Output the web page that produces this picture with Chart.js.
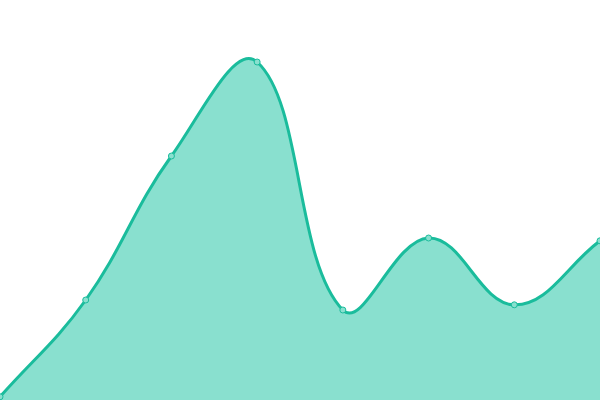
<!DOCTYPE html>
<html>
<head>
<meta charset="utf-8">
<script src="https://cdn.jsdelivr.net/npm/chart.js@4"></script>
<style>
  html, body { margin: 0; padding: 0; background: #fff; }
  #wrap { width: 600px; height: 400px; }
</style>
</head>
<body>
<div id="wrap"><canvas id="my-chart"></canvas></div>
<script>
'use strict';

// ***** DATA *****

let labels = ['1', '2', '3', '4', '5', '6', '7', '8'];
let values = [0.8, 25, 61, 84.5, 22.5, 40.5, 23.8, 39.8];

// ***** CHART *****

let ctx = document.getElementById('my-chart');

new Chart(ctx, {
    type: 'line',
    data: {
        labels: labels,
        datasets: [{
            data: values,
            fill: true,
            tension: 0.4,
            borderColor: '#1abc9c',
            backgroundColor: '#89e0cf',
            borderWidth: 3,
            pointRadius: 3,
            pointBorderWidth: 1,
            pointBackgroundColor: '#89e0cf',
            pointBorderColor: '#1abc9c'
        }]
    },
    options: {
        responsive: true,
        maintainAspectRatio: false,
        animation: false,
        layout: { padding: 0, autoPadding: false },
        plugins: {
            legend: { display: false },
            tooltip: { enabled: false }
        },
        scales: {
            x: { display: false, offset: false },
            y: { display: false, min: 0, max: 100 }
        }
    }
});
</script>
</body>
</html>
